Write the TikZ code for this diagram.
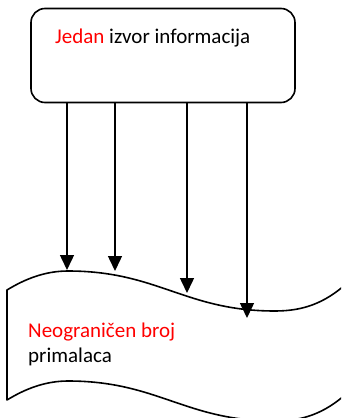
\documentclass[tikz,border=0pt]{standalone}
\usepackage{fontspec}
\setmainfont{Carlito}
\usetikzlibrary{arrows.meta}
\begin{document}
\begin{tikzpicture}[x=1pt,y=-1pt,
  line/.style={line width=1.6pt,line join=round},
  arr/.style={line width=1.5pt,-{Triangle[length=15pt,width=14pt]}},
  txt/.style={anchor=base west,inner sep=0pt,font=\fontsize{21}{25}\selectfont},
  hl/.style={text=red}]
\useasboundingbox (0,0) rectangle (341,418);
\clip (0,0) rectangle (341,418);
% source box
\node[draw,line width=1.6pt,rounded corners=14pt,minimum width=264pt,minimum height=94pt,inner sep=0pt] (src) at (163,55.5) {};
\node[txt] (t1) at (55,43) {\textcolor{red}{Jedan} izvor informacija};
% receivers tape
\draw[line] (345,285) .. controls (325,302) and (305,311) .. (275,311)
  .. controls (185,311) and (158,271) .. (68,271)
  .. controls (45,271) and (25,279) .. (7,290)
  -- (7,400)
  .. controls (25,389) and (45,381) .. (68,381)
  .. controls (158,381) and (185,421) .. (275,421)
  .. controls (305,421) and (325,412) .. (345,395);
\node[txt] (t2) at (28,337) {\textcolor{red}{Neograničen broj}};
\node[txt] (t3) at (28,362) {primalaca};
% arrow ends
\coordinate (e1) at (67,270);
\coordinate (e2) at (115,271);
\coordinate (e3) at (187,293);
\coordinate (e4) at (247,318);
\foreach \i in {1,2,3,4}{
  \draw[arr] (src.south -| e\i) -- (e\i);
}
\end{tikzpicture}
\end{document}
